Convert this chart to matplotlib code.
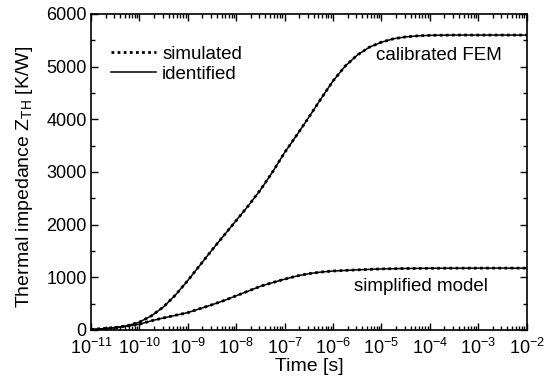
"""Thermal impedance Z_TH versus time: simulated vs identified curves."""

from matplotlib import pyplot as plt
from matplotlib.ticker import MultipleLocator, LogLocator, LogFormatterMathtext, NullFormatter
import numpy as np

plt.rcParams['font.family'] = ['Liberation Sans', 'DejaVu Sans']
plt.rcParams['mathtext.fontset'] = 'custom'
plt.rcParams['mathtext.rm'] = 'Liberation Sans'
plt.rcParams['mathtext.it'] = 'Liberation Sans:italic'
plt.rcParams['mathtext.default'] = 'regular'

# log10 of time [s], quarter-decade steps
log_time_fem = [-11, -10.75, -10.5, -10.25, -10, -9.75, -9.5, -9.25, -9, -8.75, -8.5, -8.25,
                -8, -7.75, -7.5, -7.25, -7, -6.75, -6.5, -6.25, -6, -5.75, -5.5, -5.25,
                -5, -4.75, -4.5, -4.25, -4, -3.5, -3, -2.5, -2]
z_fem = [10, 20, 45, 80, 150, 270, 440, 670, 940, 1230, 1520, 1800,
         2080, 2360, 2660, 3000, 3370, 3700, 4040, 4390, 4730, 5010, 5220, 5370,
         5465, 5530, 5565, 5585, 5595, 5600, 5600, 5600, 5600]

log_time_simple = [-11, -10.75, -10.5, -10.25, -10, -9.75, -9.5, -9.25, -9, -8.75, -8.5, -8.25,
                   -8, -7.75, -7.5, -7.25, -7, -6.75, -6.5, -6.25, -6, -5.5, -5,
                   -4.5, -4, -3, -2]
z_simple = [10, 25, 45, 75, 110, 175, 230, 280, 330, 405, 480, 560,
            650, 740, 830, 900, 965, 1025, 1070, 1100, 1120, 1142, 1160,
            1168, 1172, 1175, 1175]

LEGEND_LABELS = ["simulated", "identified"]
FS_TICK = 13
FS_TEXT = 13.5
FS_LABEL = 14

fig = plt.figure(figsize=(5.49, 3.81), dpi=100)
ax = fig.add_axes([91 / 549, 1 - 330 / 381, (526.7 - 91) / 549, 316 / 381])

for lt, z in [(log_time_fem, z_fem), (log_time_simple, z_simple)]:
    t = 10.0 ** np.array(lt)
    ax.plot(t, z, color="black", lw=1.1, ls="-")
    ax.plot(t, z, color="black", lw=2.0, ls=(0, (1, 1.2)))

ax.set_xscale("log")
ax.set_xlim(1e-11, 1e-2)
ax.set_ylim(0, 6000)
ax.xaxis.set_major_locator(LogLocator(base=10, numticks=20))
ax.xaxis.set_minor_locator(LogLocator(base=10, subs=np.arange(2, 10), numticks=20))
ax.xaxis.set_major_formatter(LogFormatterMathtext())
ax.xaxis.set_minor_formatter(NullFormatter())
ax.yaxis.set_major_locator(MultipleLocator(1000))
ax.yaxis.set_minor_locator(MultipleLocator(500))

ax.tick_params(which="both", direction="in", top=True, right=True, labelsize=FS_TICK, width=1)
ax.tick_params(which="major", length=5)
ax.tick_params(which="minor", length=3)
ax.tick_params(axis="x", which="major", pad=6)
ax.tick_params(axis="y", which="major", pad=3)
for s in ax.spines.values():
    s.set_linewidth(1.2)

ax.set_xlabel("Time [s]", fontsize=FS_LABEL, labelpad=0)
ax.set_ylabel("Thermal impedance Z$_{TH}$ [K/W]", fontsize=FS_LABEL)
ax.yaxis.set_label_coords(-0.129, 0.485)

ax.text(1.5e-4, 5220, "calibrated FEM", fontsize=FS_TEXT, ha="center", va="center")
ax.text(6.5e-5, 820, "simplified model", fontsize=FS_TEXT, ha="center", va="center")

h_sim, = ax.plot([], [], color="black", lw=2.0, ls=(0, (1, 1.2)))
h_id, = ax.plot([], [], color="black", lw=1.1)
ax.legend([h_sim, h_id], LEGEND_LABELS, loc="upper left", bbox_to_anchor=(0.047, 0.9),
          frameon=False, fontsize=FS_TEXT, handlelength=2.4, handletextpad=0.3,
          labelspacing=0.15, borderpad=0, borderaxespad=0)

fig.savefig("out.png", dpi=100)
